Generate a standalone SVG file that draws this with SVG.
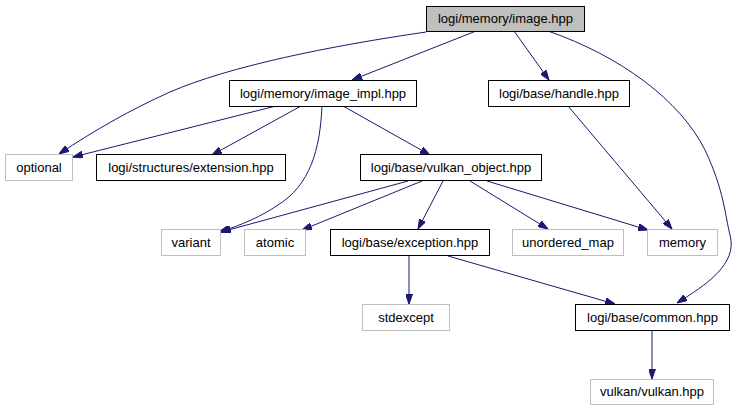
<svg xmlns="http://www.w3.org/2000/svg" width="738" height="411" viewBox="0 0 738 411">
<style>
.n rect{fill:#fff;stroke:#000;stroke-width:1}
.g rect{fill:#fff;stroke:#bfbfbf;stroke-width:1}
.root rect{fill:#bfbfbf;stroke:#000;stroke-width:1}
text{font-family:"Liberation Sans",Arial,sans-serif;font-size:13px;text-anchor:middle;fill:#000}
.e path{fill:none;stroke:#191970;stroke-width:1;marker-end:url(#a)}
</style>
<defs>
<marker id="a" viewBox="0 0 10 7" refX="10" refY="3.5" markerWidth="10" markerHeight="7" markerUnits="userSpaceOnUse" orient="auto">
<path d="M0,0 L10,3.5 L0,7 Z" fill="#191970" stroke="#191970"/>
</marker>
</defs>
<rect width="738" height="411" fill="#fff"/>
<g id="edges" class="e">
<path d="M426,32 C330,46 230,66 170,92 C130,110 95,130 59,154"/>
<path d="M476,31 L352,80"/>
<path d="M514,31 L549,80"/>
<path d="M548,31 C620,56 680,100 705,150 C724,190 725,215 730,235 C738,264 706,285 677,303"/>
<path d="M276,106 L73,157"/>
<path d="M301,106 L212,155"/>
<path d="M322,106 C320,150 310,185 278,205 C262,216 242,225 219,232"/>
<path d="M343,106 L430,155"/>
<path d="M568,106 L672,229"/>
<path d="M408,181 L221,232"/>
<path d="M422,181 L302,230"/>
<path d="M443,181 L418,229"/>
<path d="M470,181 L548,229"/>
<path d="M487,181 L648,230"/>
<path d="M409,256 L409,304"/>
<path d="M448,256 L615,304"/>
<path d="M652,330 L652,379"/>
</g>
<g id="image_hpp" class="root"><rect x="426.5" y="6.5" width="158" height="25"/><text x="505.5" y="23">logi/memory/image.hpp</text></g>
<g id="image_impl_hpp" class="n"><rect x="229.5" y="80.5" width="187" height="26"/><text x="323" y="98">logi/memory/image_impl.hpp</text></g>
<g id="handle_hpp" class="n"><rect x="488.5" y="80.5" width="141" height="26"/><text x="559" y="98">logi/base/handle.hpp</text></g>
<g id="optional" class="g"><rect x="5.5" y="154.5" width="67" height="26"/><text x="39" y="172">optional</text></g>
<g id="extension_hpp" class="n"><rect x="96.5" y="154.5" width="189" height="26"/><text x="191" y="172">logi/structures/extension.hpp</text></g>
<g id="vulkan_object_hpp" class="n"><rect x="360.5" y="154.5" width="181" height="26"/><text x="451" y="172">logi/base/vulkan_object.hpp</text></g>
<g id="variant" class="g"><rect x="161.5" y="229.5" width="59" height="26"/><text x="191" y="247">variant</text></g>
<g id="atomic" class="g"><rect x="244.5" y="229.5" width="61" height="26"/><text x="275" y="247">atomic</text></g>
<g id="exception_hpp" class="n"><rect x="330.5" y="229.5" width="159" height="26"/><text x="410" y="247">logi/base/exception.hpp</text></g>
<g id="unordered_map" class="g"><rect x="512.5" y="229.5" width="111" height="26"/><text x="568" y="247">unordered_map</text></g>
<g id="memory" class="g"><rect x="647.5" y="229.5" width="70" height="26"/><text x="682.5" y="247">memory</text></g>
<g id="stdexcept" class="g"><rect x="362.5" y="304.5" width="87" height="26"/><text x="406" y="322">stdexcept</text></g>
<g id="common_hpp" class="n"><rect x="575.5" y="304.5" width="154" height="26"/><text x="652.5" y="322">logi/base/common.hpp</text></g>
<g id="vulkan_hpp" class="g"><rect x="590.5" y="379.5" width="123" height="25"/><text x="652" y="396">vulkan/vulkan.hpp</text></g>
</svg>
